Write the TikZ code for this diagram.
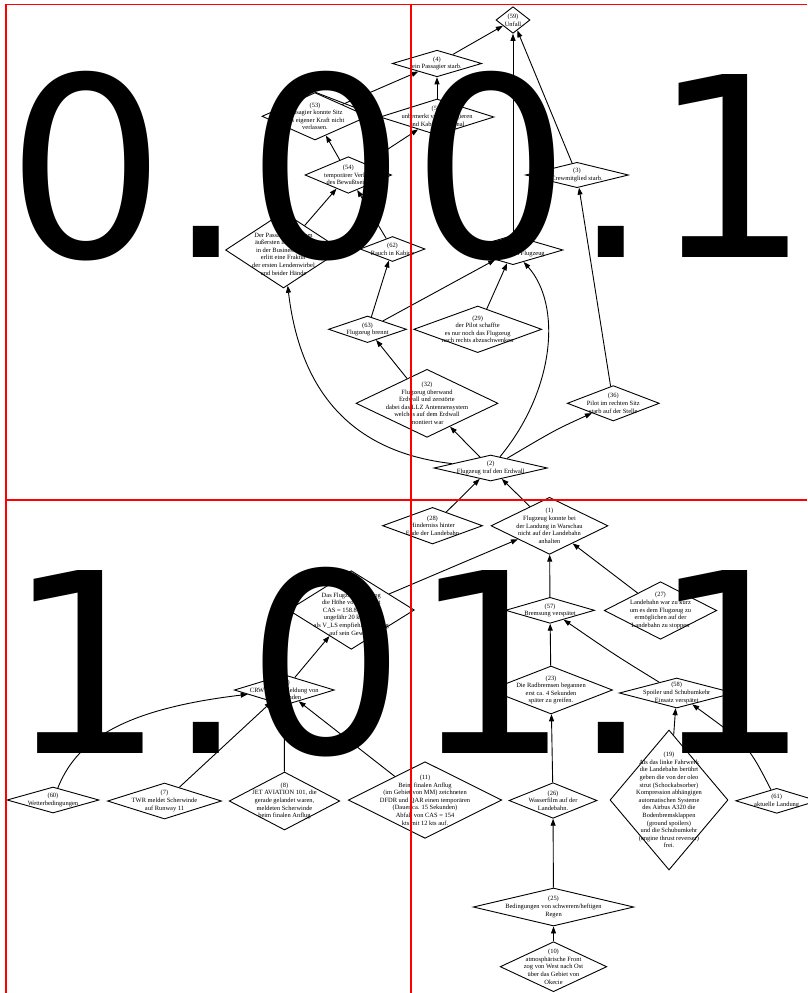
\documentclass[tikz,border=0pt]{standalone}
\usepackage{fontspec}
\setmainfont{Liberation Serif}
\newfontfamily\bigdig{DejaVu Sans}
\usetikzlibrary{shapes.geometric,arrows.meta}
\tikzset{
  dia/.style={draw=black, shape=diamond, inner sep=0pt, line width=0.9pt},
  txt/.style={align=center, inner sep=0pt, font=\fontsize{6.45}{7.6}\selectfont, text=black},
  arr/.style={draw=black, line width=0.9pt, -{Triangle[length=7pt,width=5pt]}},
  bigtxt/.style={anchor=base west, inner sep=0pt, font=\bigdig\fontsize{251}{251}\selectfont},
  gridline/.style={draw=red, line width=1.3pt},
}
\newcommand\dnode[6]{%
  \node[dia, minimum width={2*#4pt}, minimum height={2*#5pt}] (#1) at (#2,#3) {};
  \node[txt] (#1t) at (#1.center) {#6};
}
\begin{document}
\begin{tikzpicture}[x=1pt,y=-1pt]
\useasboundingbox (0,0) rectangle (807,993);
% ---- top half
\dnode{n59}{513}{20}{17}{13.3}{(59)\\Unfall}
\dnode{n4}{437}{63.5}{44.7}{13.3}{(4)\\ein Passagier starb.}
\dnode{n53}{315}{116.3}{53}{23.7}{(53)\\Passagier konnte Sitz\\aus eigener Kraft nicht\\verlassen.}
\dnode{n55}{437}{117}{57}{18}{(55)\\unbemerkt von Passagieren\\und Kabinenpersonal}
\dnode{n54}{348.3}{175}{43.3}{18.3}{(54)\\temporärer Verlust\\des Bewußtseins}
\dnode{n3}{577}{175}{51.5}{12.7}{(3)\\Crewmitglied starb.}
\dnode{nP}{283.5}{250}{58}{38}{(52)\\Der Passagier auf dem\\äußersten linken Platz\\in der Business Class\\erlitt eine Fraktur\\der ersten Lendenwirbel\\und beider Hände}
\dnode{n62}{392.5}{249}{32.5}{12.5}{(62)\\Rauch in Kabine}
\dnode{nF}{513}{250}{50}{14.7}{(5)\\Zerstörung am Flugzeug}
\dnode{n63}{367.5}{329.3}{39}{13.3}{(63)\\Flugzeug brennt}
\dnode{n29}{477.7}{329.3}{64}{23.3}{(29)\\der Pilot schaffte\\es nur noch das Flugzeug\\nach rechts abzuschwenken}
\dnode{n32}{427}{403.3}{71}{34}{(32)\\Flugzeug überwand\\Erdwall und zerstörte\\dabei das LLZ Antennensystem\\welches auf dem Erdwall\\montiert war}
\dnode{n36}{613.3}{403.3}{46}{17.7}{(36)\\Pilot im rechten Sitz\\starb auf der Stelle}
\dnode{n2}{490.7}{468}{56.7}{13}{(2)\\Flugzeug traf den Erdwall}
% ---- bottom half
\dnode{n28}{432.5}{525.7}{50}{18.3}{(28)\\Hinderniss hinter\\Ende der Landebahn}
\dnode{n1}{549.5}{525.8}{58.5}{28.5}{(1)\\Flugzeug konnte bei\\der Landung in Warschau\\nicht auf der Landebahn\\anhalten}
\dnode{n9}{351.3}{610}{63}{39.3}{(9)\\Das Flugzeug überflog\\die Höhe von 50 ft mit\\CAS = 158.8 kts, also\\ungefähr 20 kts mehr\\als V\_LS empfiehlt in Bezug\\auf sein Gewicht}
\dnode{n57}{550}{610.3}{44.5}{13}{(57)\\Bremsung verspätet}
\dnode{n27}{660.5}{610.5}{56.2}{28.8}{(27)\\Landebahn war zu kurz\\um es dem Flugzeug zu\\ermöglichen auf der\\Landebahn zu stoppen}
\dnode{nC}{284.3}{690}{50}{15.3}{(12)\\CRW erhielt Meldung von\\Scherwinden}
\dnode{n23}{551}{690}{61.5}{24}{(23)\\Die Radbremsen begannen\\erst ca. 4 Sekunden\\später zu greifen.}
\dnode{n58}{676.7}{693}{57.4}{15}{(58)\\Spoiler und Schubumkehr\\Einsatz verspätet}
\dnode{n60}{53}{800}{46}{13}{(60)\\Wetterbedingungen}
\dnode{n7}{164.5}{801}{57}{18}{(7)\\TWR meldet Scherwinde\\auf Runway 11}
\dnode{n8}{284.5}{801}{55.3}{29}{(8)\\JET AVIATION 101, die\\gerade gelandet waren,\\meldeten Scherwinde\\beim finalen Anflug}
\dnode{n11}{425}{800}{76.7}{38.3}{(11)\\Beim finalen Anflug\\(im Gebiet von MM) zeichneten\\DFDR und QAR einen temporären\\(Dauer ca. 15 Sekunden)\\Abfall von CAS = 154\\kts mit 12 kts auf.}
\dnode{n26}{553}{800.5}{44}{17.8}{(26)\\Wasserfilm auf der\\Landebahn.}
\dnode{n19}{669}{800}{59}{70}{(19)\\Als das linke Fahrwerk\\die Landebahn berührt\\geben die von der oleo\\strut (Schockabsorber)\\Kompression abhängigen\\automatischen Systeme\\des Airbus A320 die\\Bodenbremsklappen\\(ground spoilers)\\und die Schubumkehr\\(engine thrust reverser)\\frei.}
\dnode{n61}{776.7}{800.8}{41}{12.5}{(61)\\aktuelle Landung}
\dnode{n25}{553.5}{907}{80.3}{19}{(25)\\Bedingungen von schwerem/heftigen\\Regen}
\dnode{n10}{553.5}{966.7}{53.3}{25}{(10)\\atmosphärische Front\\zog von West nach Ost\\über das Gebiet von\\Okecie}
% ---- connectors
\draw[arr] (n4) -- (n59);
\draw[arr] (nF) -- (n59);
\draw[arr] (n3) -- (n59);
\draw[arr] (n55) -- (n4);
\draw[arr] (n53) -- (n4);
\draw[arr] (n53.north) -- (n55.west);
\draw[arr] (n54) -- (n53);
\draw[arr] (n54) -- (n55);
\draw[arr] (nP) -- (n54);
\draw[arr] (n62) -- (n54);
\draw[arr] (n63) -- (n62);
\draw[arr] (n63) -- (nF);
\draw[arr] (n29) -- (nF);
\draw[arr] (n2) .. controls (555,390) and (562,305) .. (nF);
\draw[arr] (n2) .. controls (350,452) and (300,390) .. (nP);
\draw[arr] (n32) -- (n63);
\draw[arr] (n2) -- (n32);
\draw[arr] (n2) .. controls (555,430) .. (n36);
\draw[arr] (n36) -- (n3);
\draw[arr] (n28) -- (n2);
\draw[arr] (n1) -- (n2);
\draw[arr] (n9) -- (n1);
\draw[arr] (n57) -- (n1);
\draw[arr] (n27) -- (n1);
\draw[arr] (n23) -- (n57);
\draw[arr] (n58) .. controls (615,655) .. (n57);
\draw[arr] (n26) -- (n23);
\draw[arr] (n19) -- (n58);
\draw[arr] (n61) .. controls (748,745) .. (n58);
\draw[arr] (n25) -- (n26);
\draw[arr] (n10) -- (n25);
\draw[arr] (nC) -- (n9);
\draw[arr] (n60) .. controls (75,745) and (115,710) .. (nC);
\draw[arr] (n7) -- (nC);
\draw[arr] (n8) -- (nC);
\draw[arr] (n11) -- (nC);
% ---- tile labels
\node[bigtxt] (q00) at (6.5,257.5) {0.0};
\node[bigtxt] (q01) at (411.4,257.5) {0.1};
\node[bigtxt] (q10) at (6.5,753) {1.0};
\node[bigtxt] (q11) at (411.4,753) {1.1};
% ---- tile grid
\draw[gridline] (6,993) -- (6,4.5) -- (807,4.5);
\draw[gridline] (411,4.5) -- (411,993);
\draw[gridline] (6,500) -- (807,500);
\end{tikzpicture}
\end{document}
